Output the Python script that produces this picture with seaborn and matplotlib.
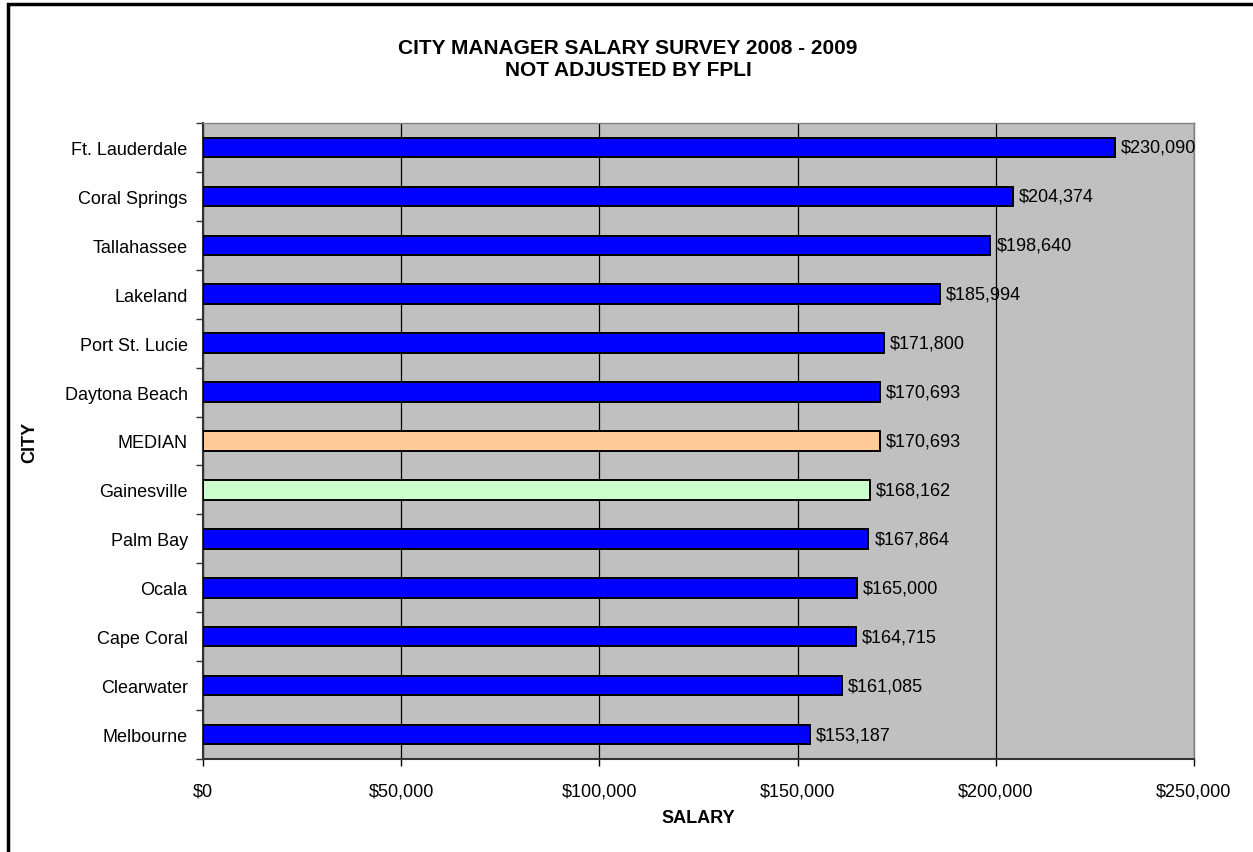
import matplotlib
matplotlib.use('Agg')
import matplotlib.pyplot as plt
import seaborn as sns
import pandas as pd
from matplotlib.patches import Rectangle
from matplotlib.ticker import FuncFormatter, MultipleLocator

cities = ['Ft. Lauderdale', 'Coral Springs', 'Tallahassee', 'Lakeland', 'Port St. Lucie',
          'Daytona Beach', 'MEDIAN', 'Gainesville', 'Palm Bay', 'Ocala', 'Cape Coral',
          'Clearwater', 'Melbourne']
salaries = [230090, 204374, 198640, 185994, 171800, 170693, 170693, 168162, 167864,
            165000, 164715, 161085, 153187]
bar_colors = ['#0000FF'] * 6 + ['#FFCC99', '#CCFFCC'] + ['#0000FF'] * 5

sns.set_style('white')
plt.rcParams['font.family'] = ['Liberation Sans', 'DejaVu Sans']
plt.rcParams['text.color'] = 'black'
plt.rcParams['axes.labelcolor'] = 'black'
plt.rcParams['xtick.color'] = 'black'
plt.rcParams['ytick.color'] = 'black'

df = pd.DataFrame({'city': cities, 'salary': salaries})

fig = plt.figure(figsize=(12.53, 8.53), dpi=100)
ax = fig.add_axes([203 / 1253, 1 - 760 / 853, (1194 - 203) / 1253, (760 - 124) / 853])
ax.set_facecolor('#C0C0C0')

sns.barplot(data=df, x='salary', y='city', hue='city', palette=bar_colors, legend=False,
            orient='h', width=0.4, saturation=1, edgecolor='black', linewidth=1.4,
            ax=ax, zorder=3)

ax.set_xlim(0, 250000)
ax.set_ylim(len(cities) - 0.5, -0.5)
ax.xaxis.set_major_locator(MultipleLocator(50000))
ax.xaxis.set_major_formatter(FuncFormatter(lambda v, p: '${:,.0f}'.format(v)))
ax.grid(axis='x', color='black', linewidth=0.9, zorder=1)
ax.set_axisbelow(True)

# y ticks sit between categories
ax.set_yticks(range(len(cities)))
ax.set_yticklabels(cities)
ax.set_yticks([i - 0.5 for i in range(len(cities) + 1)], minor=True)
ax.tick_params(axis='y', which='major', length=0, pad=11, labelsize=13)
ax.tick_params(axis='y', which='minor', length=5, width=1, color='#333333', left=True)
ax.tick_params(axis='x', which='major', length=5, width=1, color='black', bottom=True,
               pad=12, labelsize=13)

for side in ['top', 'right']:
    ax.spines[side].set_color('#808080')
    ax.spines[side].set_linewidth(1)
for side in ['left', 'bottom']:
    ax.spines[side].set_color('#333333')
    ax.spines[side].set_linewidth(1.5)

for i, v in enumerate(salaries):
    ax.text(v + 1500, i, '${:,.0f}'.format(v), va='center', ha='left', fontsize=13, zorder=4)

ax.set_xlabel('')
ax.set_ylabel('')
fig.text(698 / 1253, 1 - 819 / 853, 'SALARY', ha='center', va='center',
         fontsize=13, fontweight='bold')
fig.text(30 / 1253, 1 - 442 / 853, 'CITY', rotation=90, ha='center', va='center',
         fontsize=13, fontweight='bold')

fig.text(628 / 1253, 1 - 49 / 853, 'CITY MANAGER SALARY SURVEY 2008 - 2009',
         ha='center', va='center', fontsize=15, fontweight='bold')
fig.text(628 / 1253, 1 - 71 / 853, 'NOT ADJUSTED BY FPLI',
         ha='center', va='center', fontsize=15, fontweight='bold')

# chart border, cut off at right and bottom like the source image
fig.patches.append(Rectangle((8 / 1253, -0.05), 1.1, 1 - 5 / 853 + 0.05,
                             transform=fig.transFigure, fill=False,
                             edgecolor='black', linewidth=2.5))

fig.savefig('out.png', dpi=100)
